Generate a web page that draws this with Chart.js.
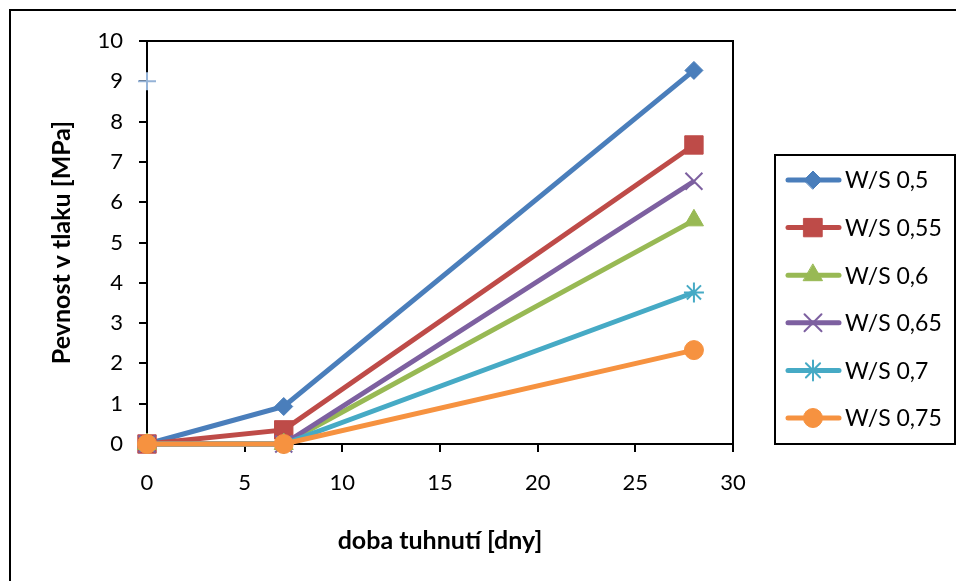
<!DOCTYPE html>
<html><head><meta charset="utf-8">
<script src="https://cdn.jsdelivr.net/npm/chart.js@4"></script>
<style>html,body{margin:0;padding:0;background:#fff}#wrap{width:956px;height:581px;position:relative}</style>
</head><body><div id="wrap"><canvas id="c" width="956" height="581"></canvas></div>
<script>
// ---- data ----
const days = [0, 7, 28];
const seriesLabels = ['W/S 0,5', 'W/S 0,55', 'W/S 0,6', 'W/S 0,65', 'W/S 0,7', 'W/S 0,75'];
const ws050 = [0, 0.93, 9.27];
const ws055 = [0, 0.35, 7.42];
const ws060 = [0, 0, 5.55];
const ws065 = [0, 0, 6.52];
const ws070 = [0, 0, 3.76];
const ws075 = [0, 0, 2.33];
const strayX = [0];
const strayY = [9];
const xTickValues = [0, 5, 10, 15, 20, 25, 30];
const yTickValues = [0, 1, 2, 3, 4, 5, 6, 7, 8, 9, 10];
const xTitle = 'doba tuhnutí [dny]';
const yTitle = 'Pevnost v tlaku [MPa]';

// ---- styles ----
const colors = ['#4A7EBB', '#BE4B48', '#98B954', '#7D60A0', '#46AAC5', '#F69240'];
const styles = ['rectRot', 'rect', 'triangle', 'crossRot', 'star', 'circle'];
const radii = [9, 13, 11, 12, 10, 9.5];
const pbw = [1, 1, 1, 2, 2, 1];
const allValues = [ws050, ws055, ws060, ws065, ws070, ws075];
const FONT = 'Lato, "Open Sans", sans-serif';

const datasets = allValues.map((vals, i) => ({
  label: seriesLabels[i],
  data: days.map((d, j) => ({x: d, y: vals[j]})),
  showLine: true,
  borderColor: colors[i],
  backgroundColor: colors[i],
  pointBackgroundColor: colors[i],
  pointBorderColor: colors[i],
  borderWidth: 5,
  pointStyle: styles[i],
  pointRadius: radii[i],
  pointBorderWidth: pbw[i],
  clip: false,
  order: 10 - i
}));
datasets.push({
  label: '',
  data: strayX.map((x, j) => ({x: x, y: strayY[j]})),
  showLine: false,
  pointStyle: 'cross',
  pointRadius: 9,
  pointBorderWidth: 2,
  pointBorderColor: '#95B3D7',
  pointBackgroundColor: '#95B3D7',
  clip: false,
  order: 0
});

const framePlugin = {
  id: 'frame',
  beforeDraw(chart) {
    const ctx = chart.ctx;
    ctx.save();
    ctx.fillStyle = '#fff';
    ctx.fillRect(0, 0, chart.width, chart.height);
    ctx.strokeStyle = '#000';
    ctx.lineWidth = 2;
    ctx.strokeRect(10, 10, 2000, 2000);
    const a = chart.chartArea;
    ctx.beginPath();
    ctx.moveTo(a.left, a.top);
    ctx.lineTo(a.right, a.top);
    ctx.lineTo(a.right, a.bottom);
    ctx.stroke();
    ctx.restore();
  },
  afterDraw(chart) {
    const ctx = chart.ctx;
    ctx.save();
    ctx.strokeStyle = '#000';
    ctx.lineWidth = 2;
    ctx.strokeRect(775, 155, 180, 289);
    const helpers = Chart.helpers;
    for (let i = 0; i < seriesLabels.length; i++) {
      const y = 180 + i * 47.6;
      ctx.strokeStyle = colors[i];
      ctx.lineWidth = 5;
      ctx.lineCap = 'round';
      ctx.beginPath();
      ctx.moveTo(788, y);
      ctx.lineTo(839, y);
      ctx.stroke();
      ctx.fillStyle = colors[i];
      ctx.strokeStyle = colors[i];
      ctx.lineWidth = pbw[i];
      if (helpers && helpers.drawPoint) {
        helpers.drawPoint(ctx, {pointStyle: styles[i], radius: radii[i], borderWidth: pbw[i], rotation: 0}, 813, y);
      }
      ctx.fillStyle = '#000';
      ctx.font = '23px ' + FONT;
      ctx.textBaseline = 'middle';
      ctx.textAlign = 'left';
      ctx.fillText(seriesLabels[i], 845, y + 1);
    }
    ctx.restore();
  }
};

new Chart(document.getElementById('c'), {
  type: 'scatter',
  data: {datasets},
  options: {
    responsive: false,
    animation: false,
    devicePixelRatio: 1,
    layout: {padding: {left: 10, top: 41, right: 223, bottom: 0}},
    plugins: {legend: {display: false}, tooltip: {enabled: false}},
    scales: {
      x: {
        type: 'linear', min: 0, max: 30,
        afterBuildTicks(s) { s.ticks = xTickValues.map(v => ({value: v})); },
        afterFit(s) { s.height = 137; },
        ticks: {color: '#000', font: {family: FONT, size: 22}, padding: 18, maxRotation: 0},
        grid: {display: true, drawOnChartArea: false, drawTicks: true, tickLength: 8, color: '#000', lineWidth: 2},
        border: {display: true, color: '#000', width: 2},
        title: {display: true, text: xTitle, color: '#000', font: {family: FONT, size: 25, weight: 'bold'}, padding: {top: 0, bottom: 25}}
      },
      y: {
        type: 'linear', min: 0, max: 10,
        afterBuildTicks(s) { s.ticks = yTickValues.map(v => ({value: v})); },
        afterFit(s) { s.width = 137; },
        ticks: {color: '#000', font: {family: FONT, size: 22}, padding: 16},
        grid: {display: true, drawOnChartArea: false, drawTicks: true, tickLength: 8, color: '#000', lineWidth: 2},
        border: {display: true, color: '#000', width: 2},
        title: {display: true, text: yTitle, color: '#000', font: {family: FONT, size: 25, weight: 'bold'}, padding: {top: 37, bottom: 0}}
      }
    }
  },
  plugins: [framePlugin]
});
</script>
</body></html>
